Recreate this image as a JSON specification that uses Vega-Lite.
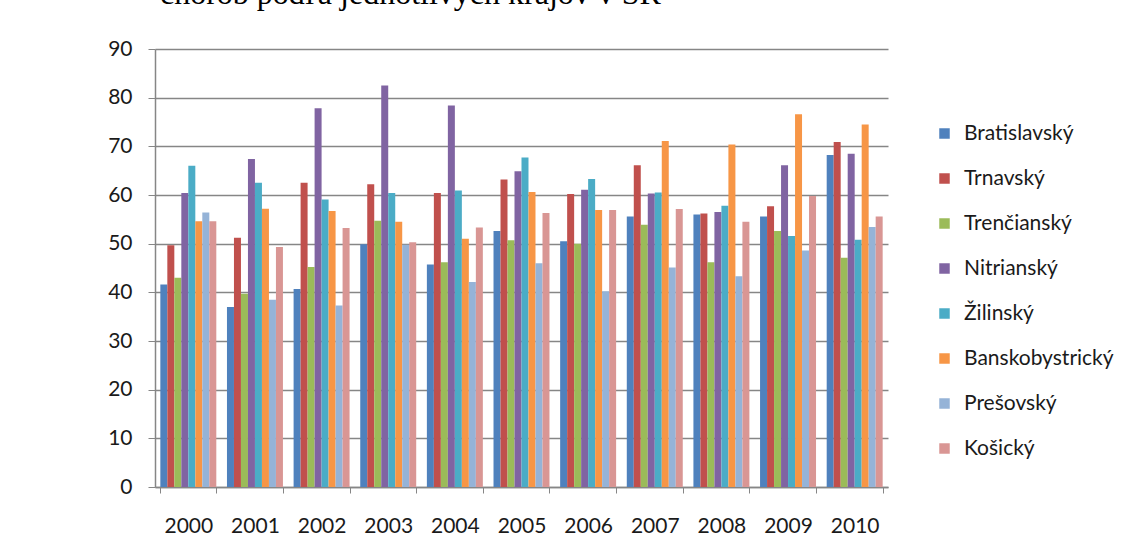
{
  "$schema": "https://vega.github.io/schema/vega-lite/v6.json",
  "width": 733,
  "height": 438,
  "autosize": {"type": "none"},
  "padding": {"left": 155, "top": 49, "right": 234, "bottom": 47},
  "background": "white",
  "title": {
    "text": "chorob podľa jednotlivých krajov v SR",
    "anchor": "start",
    "frame": "group",
    "dx": 5,
    "offset": 2,
    "baseline": "alphabetic",
    "font": "Liberation Serif",
    "fontSize": 32,
    "fontWeight": "normal",
    "color": "#000000"
  },
  "data": {
    "values": [
      {"rok": "2000", "kraj": "Bratislavský", "hodnota": 41.6},
      {"rok": "2000", "kraj": "Trnavský", "hodnota": 49.7},
      {"rok": "2000", "kraj": "Trenčianský", "hodnota": 43.0},
      {"rok": "2000", "kraj": "Nitrianský", "hodnota": 60.4},
      {"rok": "2000", "kraj": "Žilinský", "hodnota": 66.0},
      {"rok": "2000", "kraj": "Banskobystrický", "hodnota": 54.6},
      {"rok": "2000", "kraj": "Prešovský", "hodnota": 56.4},
      {"rok": "2000", "kraj": "Košický", "hodnota": 54.6},
      {"rok": "2001", "kraj": "Bratislavský", "hodnota": 37.0},
      {"rok": "2001", "kraj": "Trnavský", "hodnota": 51.2},
      {"rok": "2001", "kraj": "Trenčianský", "hodnota": 39.7},
      {"rok": "2001", "kraj": "Nitrianský", "hodnota": 67.4},
      {"rok": "2001", "kraj": "Žilinský", "hodnota": 62.5},
      {"rok": "2001", "kraj": "Banskobystrický", "hodnota": 57.2},
      {"rok": "2001", "kraj": "Prešovský", "hodnota": 38.5},
      {"rok": "2001", "kraj": "Košický", "hodnota": 49.3},
      {"rok": "2002", "kraj": "Bratislavský", "hodnota": 40.7},
      {"rok": "2002", "kraj": "Trnavský", "hodnota": 62.5},
      {"rok": "2002", "kraj": "Trenčianský", "hodnota": 45.2},
      {"rok": "2002", "kraj": "Nitrianský", "hodnota": 77.8},
      {"rok": "2002", "kraj": "Žilinský", "hodnota": 59.1},
      {"rok": "2002", "kraj": "Banskobystrický", "hodnota": 56.7},
      {"rok": "2002", "kraj": "Prešovský", "hodnota": 37.3},
      {"rok": "2002", "kraj": "Košický", "hodnota": 53.2},
      {"rok": "2003", "kraj": "Bratislavský", "hodnota": 49.9},
      {"rok": "2003", "kraj": "Trnavský", "hodnota": 62.2},
      {"rok": "2003", "kraj": "Trenčianský", "hodnota": 54.7},
      {"rok": "2003", "kraj": "Nitrianský", "hodnota": 82.5},
      {"rok": "2003", "kraj": "Žilinský", "hodnota": 60.4},
      {"rok": "2003", "kraj": "Banskobystrický", "hodnota": 54.5},
      {"rok": "2003", "kraj": "Prešovský", "hodnota": 49.8},
      {"rok": "2003", "kraj": "Košický", "hodnota": 50.3},
      {"rok": "2004", "kraj": "Bratislavský", "hodnota": 45.7},
      {"rok": "2004", "kraj": "Trnavský", "hodnota": 60.4},
      {"rok": "2004", "kraj": "Trenčianský", "hodnota": 46.2},
      {"rok": "2004", "kraj": "Nitrianský", "hodnota": 78.4},
      {"rok": "2004", "kraj": "Žilinský", "hodnota": 60.9},
      {"rok": "2004", "kraj": "Banskobystrický", "hodnota": 51.0},
      {"rok": "2004", "kraj": "Prešovský", "hodnota": 42.1},
      {"rok": "2004", "kraj": "Košický", "hodnota": 53.3},
      {"rok": "2005", "kraj": "Bratislavský", "hodnota": 52.6},
      {"rok": "2005", "kraj": "Trnavský", "hodnota": 63.2},
      {"rok": "2005", "kraj": "Trenčianský", "hodnota": 50.7},
      {"rok": "2005", "kraj": "Nitrianský", "hodnota": 64.9},
      {"rok": "2005", "kraj": "Žilinský", "hodnota": 67.7},
      {"rok": "2005", "kraj": "Banskobystrický", "hodnota": 60.6},
      {"rok": "2005", "kraj": "Prešovský", "hodnota": 46.0},
      {"rok": "2005", "kraj": "Košický", "hodnota": 56.3},
      {"rok": "2006", "kraj": "Bratislavský", "hodnota": 50.5},
      {"rok": "2006", "kraj": "Trnavský", "hodnota": 60.2},
      {"rok": "2006", "kraj": "Trenčianský", "hodnota": 50.0},
      {"rok": "2006", "kraj": "Nitrianský", "hodnota": 61.1},
      {"rok": "2006", "kraj": "Žilinský", "hodnota": 63.3},
      {"rok": "2006", "kraj": "Banskobystrický", "hodnota": 56.9},
      {"rok": "2006", "kraj": "Prešovský", "hodnota": 40.2},
      {"rok": "2006", "kraj": "Košický", "hodnota": 56.9},
      {"rok": "2007", "kraj": "Bratislavský", "hodnota": 55.6},
      {"rok": "2007", "kraj": "Trnavský", "hodnota": 66.1},
      {"rok": "2007", "kraj": "Trenčianský", "hodnota": 53.9},
      {"rok": "2007", "kraj": "Nitrianský", "hodnota": 60.3},
      {"rok": "2007", "kraj": "Žilinský", "hodnota": 60.5},
      {"rok": "2007", "kraj": "Banskobystrický", "hodnota": 71.1},
      {"rok": "2007", "kraj": "Prešovský", "hodnota": 45.1},
      {"rok": "2007", "kraj": "Košický", "hodnota": 57.1},
      {"rok": "2008", "kraj": "Bratislavský", "hodnota": 56.0},
      {"rok": "2008", "kraj": "Trnavský", "hodnota": 56.2},
      {"rok": "2008", "kraj": "Trenčianský", "hodnota": 46.2},
      {"rok": "2008", "kraj": "Nitrianský", "hodnota": 56.5},
      {"rok": "2008", "kraj": "Žilinský", "hodnota": 57.8},
      {"rok": "2008", "kraj": "Banskobystrický", "hodnota": 70.4},
      {"rok": "2008", "kraj": "Prešovský", "hodnota": 43.3},
      {"rok": "2008", "kraj": "Košický", "hodnota": 54.5},
      {"rok": "2009", "kraj": "Bratislavský", "hodnota": 55.6},
      {"rok": "2009", "kraj": "Trnavský", "hodnota": 57.7},
      {"rok": "2009", "kraj": "Trenčianský", "hodnota": 52.6},
      {"rok": "2009", "kraj": "Nitrianský", "hodnota": 66.1},
      {"rok": "2009", "kraj": "Žilinský", "hodnota": 51.6},
      {"rok": "2009", "kraj": "Banskobystrický", "hodnota": 76.6},
      {"rok": "2009", "kraj": "Prešovský", "hodnota": 48.6},
      {"rok": "2009", "kraj": "Košický", "hodnota": 59.8},
      {"rok": "2010", "kraj": "Bratislavský", "hodnota": 68.2},
      {"rok": "2010", "kraj": "Trnavský", "hodnota": 70.9},
      {"rok": "2010", "kraj": "Trenčianský", "hodnota": 47.1},
      {"rok": "2010", "kraj": "Nitrianský", "hodnota": 68.5},
      {"rok": "2010", "kraj": "Žilinský", "hodnota": 50.8},
      {"rok": "2010", "kraj": "Banskobystrický", "hodnota": 74.5},
      {"rok": "2010", "kraj": "Prešovský", "hodnota": 53.4},
      {"rok": "2010", "kraj": "Košický", "hodnota": 55.6}
    ]
  },
  "mark": {"type": "bar"},
  "encoding": {
    "x": {
      "field": "rok",
      "type": "nominal",
      "scale": {"paddingInner": 0.16, "paddingOuter": 0.08},
      "axis": {
        "title": null,
        "labelAngle": 0,
        "labelFont": "Lato",
        "labelFontSize": 21,
        "labelColor": "#1a1a1a",
        "labelPadding": 22,
        "tickBand": "extent",
        "tickSize": 6,
        "tickColor": "#868686",
        "domainColor": "#868686",
        "domainWidth": 1.5,
        "grid": false
      }
    },
    "xOffset": {
      "field": "kraj",
      "type": "nominal",
      "sort": ["Bratislavský", "Trnavský", "Trenčianský", "Nitrianský", "Žilinský", "Banskobystrický", "Prešovský", "Košický"],
      "scale": {"paddingInner": 0, "paddingOuter": 0}
    },
    "y": {
      "field": "hodnota",
      "type": "quantitative",
      "scale": {"domain": [0, 90], "nice": false},
      "axis": {
        "title": null,
        "values": [0, 10, 20, 30, 40, 50, 60, 70, 80, 90],
        "labelFont": "Lato",
        "labelFontSize": 21,
        "labelColor": "#1a1a1a",
        "labelPadding": 16,
        "tickSize": 7,
        "tickColor": "#868686",
        "domainColor": "#868686",
        "domainWidth": 1.5,
        "gridColor": "#868686",
        "gridWidth": 1.5
      }
    },
    "color": {
      "field": "kraj",
      "type": "nominal",
      "sort": ["Bratislavský", "Trnavský", "Trenčianský", "Nitrianský", "Žilinský", "Banskobystrický", "Prešovský", "Košický"],
      "scale": {
        "domain": ["Bratislavský", "Trnavský", "Trenčianský", "Nitrianský", "Žilinský", "Banskobystrický", "Prešovský", "Košický"],
        "range": ["#4F81BD", "#C0504D", "#9BBB59", "#8064A2", "#4BACC6", "#F79646", "#95B3D7", "#D99694"]
      },
      "legend": {
        "title": null,
        "orient": "none",
        "legendX": 779,
        "legendY": 74,
        "padding": 0,
        "symbolType": "square",
        "symbolSize": 110,
        "symbolStrokeWidth": 0,
        "labelFont": "Lato",
        "labelFontSize": 21,
        "labelColor": "#1a1a1a",
        "labelOffset": 9,
        "rowPadding": 23
      }
    }
  },
  "config": {
    "view": {"stroke": null}
  }
}
